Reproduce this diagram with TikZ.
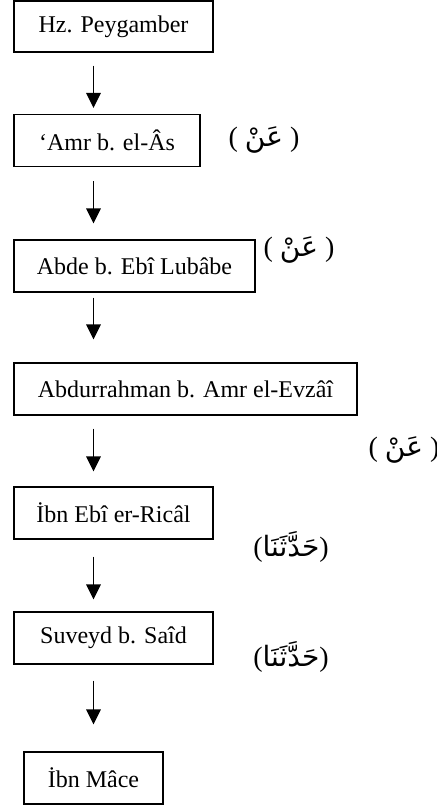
\documentclass[tikz,border=0pt]{standalone}
\usepackage{fontspec}
\setmainfont{Liberation Serif}
\newfontfamily\arabicfont[Script=Arabic]{DejaVu Sans}
\TeXXeTstate=1
\usepackage{tikz}
\usetikzlibrary{positioning, arrows.meta}
\tikzset{
    rawi/.style={draw, line width=0.6pt, minimum height=26pt, inner sep=0pt, align=center, font=\fontsize{12}{14}\selectfont},
    sigl/.style={font=\fontsize{14}{16}\selectfont, inner sep=0pt},
}
\begin{document}
\begin{tikzpicture}[
        x=0.5pt, y=-0.5pt,
        nakil/.style={-{Triangle[length=7.5pt,width=7.3pt]}, line width=0.65pt},
    ]
        \useasboundingbox (0,0) rectangle (437,807);
        \node[rawi, minimum width=99.5pt, minimum height=25.5pt] (pey)  at (113.5,26.5) {Hz. Peygamber};
        \node[rawi, minimum width=93pt]   (amr)  at (107,140.5)  {‘Amr b. el-Âs};
        \node[rawi, minimum width=120.5pt] (abde) at (134.5,266) {Abde b. Ebî Lubâbe};
        \node[rawi, minimum width=171.5pt] (evz)  at (185.5,389) {Abdurrahman b. Amr el-Evzâî};
        \node[rawi, minimum width=99.5pt] (ricl) at (113.5,513)  {İbn Ebî er-Ricâl};
        \node[rawi, minimum width=99.5pt] (suv)  at (113.5,638)  {Suveyd b. Saîd};
        \node[rawi, minimum width=69.5pt] (mace) at (93.5,778)   {İbn Mâce};
        % sigalar
        \node[sigl] (an1) at (264,140) {( {\arabicfont\beginR عَنْ\endR} )};
        \node[sigl] (an2) at (299,250) {( {\arabicfont\beginR عَنْ\endR} )};
        \node[sigl] (an3) at (404,450) {( {\arabicfont\beginR عَنْ\endR} )};
        \node[sigl] (hd1) at (291,547) {({\arabicfont\beginR حَدَّثَنَا\endR})};
        \node[sigl] (hd2) at (291,657) {({\arabicfont\beginR حَدَّثَنَا\endR})};
        % oklar
        \draw[nakil, shorten <=6.5pt, shorten >=3pt] (pey.south -| mace.north)  -- (amr.north -| mace.north);
        \draw[nakil, shorten <=7pt, shorten >=8pt]   (amr.south -| mace.north)  -- (abde.north -| mace.north);
        \draw[nakil, shorten <=2.5pt, shorten >=11.5pt] (abde.south -| mace.north) -- (evz.north -| mace.north);
        \draw[nakil, shorten <=6.5pt, shorten >=7.5pt] (evz.south -| mace.north)  -- (ricl.north -| mace.north);
        \draw[nakil, shorten <=8.5pt, shorten >=6pt]  (ricl.south -| mace.north) -- (suv.north -| mace.north);
        \draw[nakil, shorten <=8pt, shorten >=13.5pt] (suv.south -| mace.north)  -- (mace.north);
    \end{tikzpicture}
\end{document}
